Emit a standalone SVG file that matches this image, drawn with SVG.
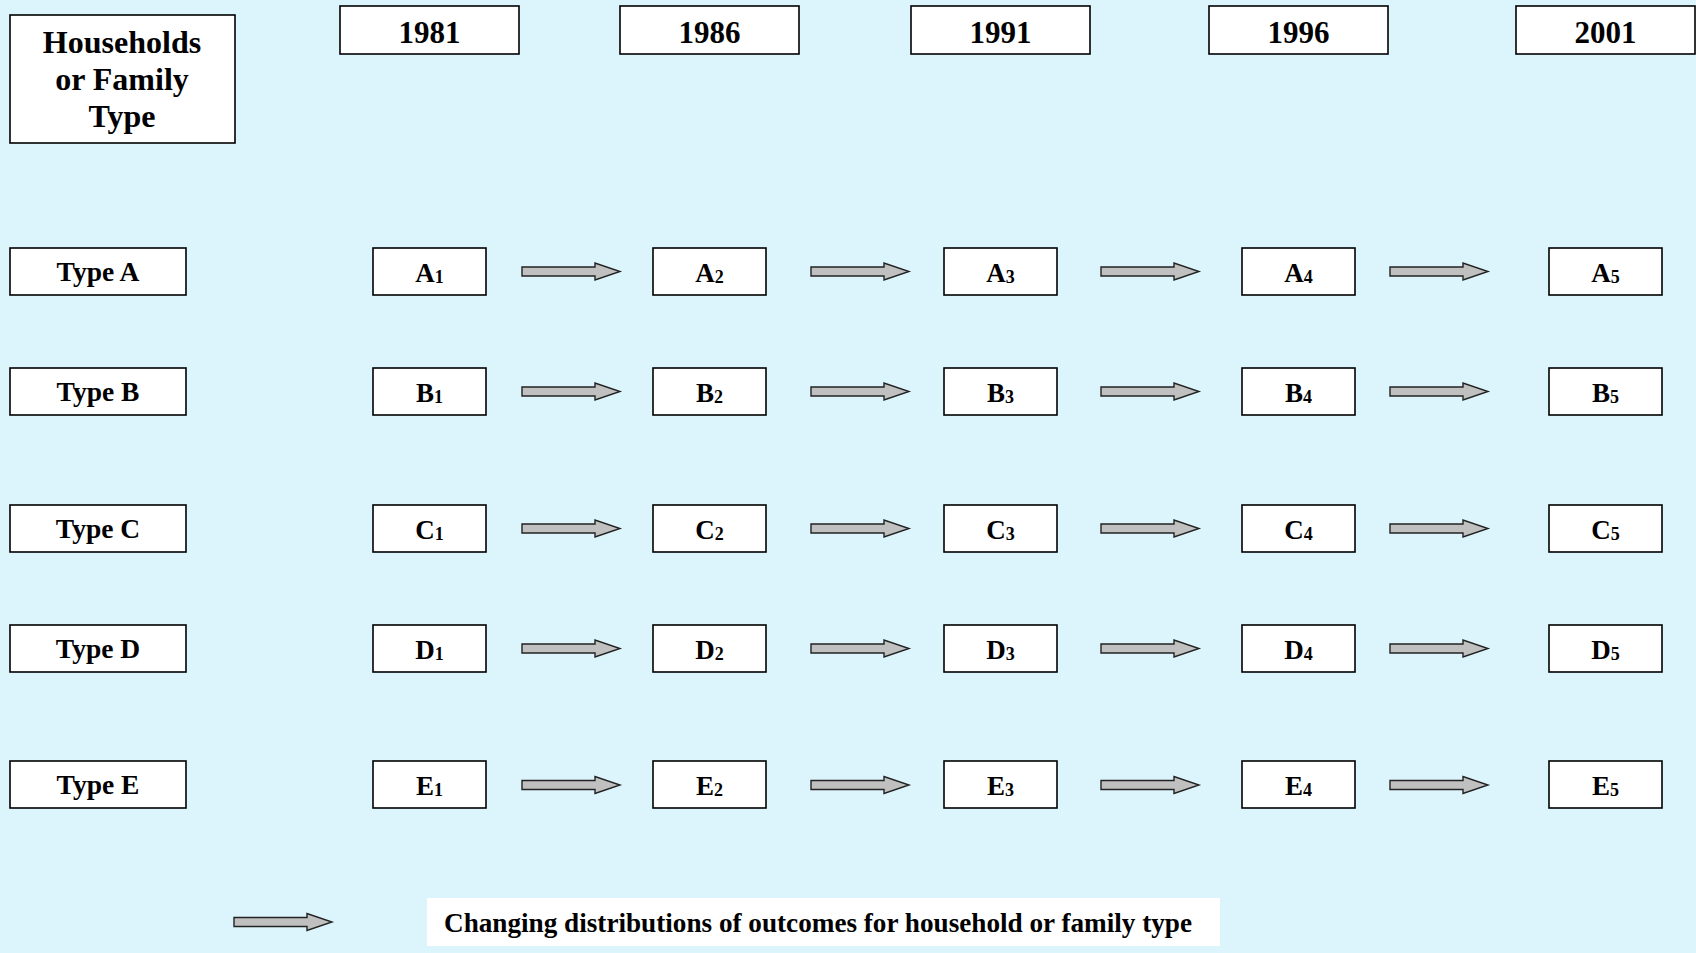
<svg xmlns="http://www.w3.org/2000/svg" xmlns:xlink="http://www.w3.org/1999/xlink" width="1696" height="953" viewBox="0 0 1696 953">
<style>
.box{fill:#fff;stroke:#000;stroke-width:1.6}
.t{font-family:"Liberation Serif","Times New Roman",serif;font-weight:bold;fill:#000;text-anchor:middle}
.hd{font-size:32px}
.yr{font-size:31px}
.ty{font-size:27.5px}
.cl{font-size:27px}
.sb{font-size:18px}
.lg{font-size:27px;text-anchor:start}
.arr{fill:#c0c0c0;stroke:#222;stroke-width:1.4}
</style>
<defs>
<path id="ar" class="arr" d="M0,-4.5 H73 V-8.5 L98,0 L73,8.5 V4.5 H0 Z"/>
</defs>
<rect width="1696" height="953" fill="#dcf5fd"/>
<g id="header">
<rect class="box" x="10" y="15" width="225" height="128"/>
<text class="t hd" x="122" y="53">Households</text>
<text class="t hd" x="122" y="90">or Family</text>
<text class="t hd" x="122" y="127">Type</text>
</g>
<g id="y1981"><rect class="box" x="340" y="6" width="179" height="48"/><text class="t yr" x="429.5" y="43">1981</text></g>
<g id="y1986"><rect class="box" x="620" y="6" width="179" height="48"/><text class="t yr" x="709.5" y="43">1986</text></g>
<g id="y1991"><rect class="box" x="911" y="6" width="179" height="48"/><text class="t yr" x="1000.5" y="43">1991</text></g>
<g id="y1996"><rect class="box" x="1209" y="6" width="179" height="48"/><text class="t yr" x="1298.5" y="43">1996</text></g>
<g id="y2001"><rect class="box" x="1516" y="6" width="179" height="48"/><text class="t yr" x="1605.5" y="43">2001</text></g>

<g id="typeA"><rect class="box" x="10" y="248" width="176" height="47"/><text class="t ty" x="98" y="281">Type A</text></g>
<g id="typeB"><rect class="box" x="10" y="368" width="176" height="47"/><text class="t ty" x="98" y="401">Type B</text></g>
<g id="typeC"><rect class="box" x="10" y="505" width="176" height="47"/><text class="t ty" x="98" y="538">Type C</text></g>
<g id="typeD"><rect class="box" x="10" y="625" width="176" height="47"/><text class="t ty" x="98" y="658">Type D</text></g>
<g id="typeE"><rect class="box" x="10" y="761" width="176" height="47"/><text class="t ty" x="98" y="794">Type E</text></g>

<g id="A1"><rect class="box" x="373" y="248" width="113" height="47"/><text class="t cl" x="429.5" y="282">A<tspan class="sb" dy="1">1</tspan></text></g>
<g id="A2"><rect class="box" x="653" y="248" width="113" height="47"/><text class="t cl" x="709.5" y="282">A<tspan class="sb" dy="1">2</tspan></text></g>
<g id="A3"><rect class="box" x="944" y="248" width="113" height="47"/><text class="t cl" x="1000.5" y="282">A<tspan class="sb" dy="1">3</tspan></text></g>
<g id="A4"><rect class="box" x="1242" y="248" width="113" height="47"/><text class="t cl" x="1298.5" y="282">A<tspan class="sb" dy="1">4</tspan></text></g>
<g id="A5"><rect class="box" x="1549" y="248" width="113" height="47"/><text class="t cl" x="1605.5" y="282">A<tspan class="sb" dy="1">5</tspan></text></g>

<g id="B1"><rect class="box" x="373" y="368" width="113" height="47"/><text class="t cl" x="429.5" y="402">B<tspan class="sb" dy="1">1</tspan></text></g>
<g id="B2"><rect class="box" x="653" y="368" width="113" height="47"/><text class="t cl" x="709.5" y="402">B<tspan class="sb" dy="1">2</tspan></text></g>
<g id="B3"><rect class="box" x="944" y="368" width="113" height="47"/><text class="t cl" x="1000.5" y="402">B<tspan class="sb" dy="1">3</tspan></text></g>
<g id="B4"><rect class="box" x="1242" y="368" width="113" height="47"/><text class="t cl" x="1298.5" y="402">B<tspan class="sb" dy="1">4</tspan></text></g>
<g id="B5"><rect class="box" x="1549" y="368" width="113" height="47"/><text class="t cl" x="1605.5" y="402">B<tspan class="sb" dy="1">5</tspan></text></g>

<g id="C1"><rect class="box" x="373" y="505" width="113" height="47"/><text class="t cl" x="429.5" y="539">C<tspan class="sb" dy="1">1</tspan></text></g>
<g id="C2"><rect class="box" x="653" y="505" width="113" height="47"/><text class="t cl" x="709.5" y="539">C<tspan class="sb" dy="1">2</tspan></text></g>
<g id="C3"><rect class="box" x="944" y="505" width="113" height="47"/><text class="t cl" x="1000.5" y="539">C<tspan class="sb" dy="1">3</tspan></text></g>
<g id="C4"><rect class="box" x="1242" y="505" width="113" height="47"/><text class="t cl" x="1298.5" y="539">C<tspan class="sb" dy="1">4</tspan></text></g>
<g id="C5"><rect class="box" x="1549" y="505" width="113" height="47"/><text class="t cl" x="1605.5" y="539">C<tspan class="sb" dy="1">5</tspan></text></g>

<g id="D1"><rect class="box" x="373" y="625" width="113" height="47"/><text class="t cl" x="429.5" y="659">D<tspan class="sb" dy="1">1</tspan></text></g>
<g id="D2"><rect class="box" x="653" y="625" width="113" height="47"/><text class="t cl" x="709.5" y="659">D<tspan class="sb" dy="1">2</tspan></text></g>
<g id="D3"><rect class="box" x="944" y="625" width="113" height="47"/><text class="t cl" x="1000.5" y="659">D<tspan class="sb" dy="1">3</tspan></text></g>
<g id="D4"><rect class="box" x="1242" y="625" width="113" height="47"/><text class="t cl" x="1298.5" y="659">D<tspan class="sb" dy="1">4</tspan></text></g>
<g id="D5"><rect class="box" x="1549" y="625" width="113" height="47"/><text class="t cl" x="1605.5" y="659">D<tspan class="sb" dy="1">5</tspan></text></g>

<g id="E1"><rect class="box" x="373" y="761" width="113" height="47"/><text class="t cl" x="429.5" y="795">E<tspan class="sb" dy="1">1</tspan></text></g>
<g id="E2"><rect class="box" x="653" y="761" width="113" height="47"/><text class="t cl" x="709.5" y="795">E<tspan class="sb" dy="1">2</tspan></text></g>
<g id="E3"><rect class="box" x="944" y="761" width="113" height="47"/><text class="t cl" x="1000.5" y="795">E<tspan class="sb" dy="1">3</tspan></text></g>
<g id="E4"><rect class="box" x="1242" y="761" width="113" height="47"/><text class="t cl" x="1298.5" y="795">E<tspan class="sb" dy="1">4</tspan></text></g>
<g id="E5"><rect class="box" x="1549" y="761" width="113" height="47"/><text class="t cl" x="1605.5" y="795">E<tspan class="sb" dy="1">5</tspan></text></g>

<g id="connectors">
<use xlink:href="#ar" x="522" y="271.5"/><use xlink:href="#ar" x="811" y="271.5"/><use xlink:href="#ar" x="1101" y="271.5"/><use xlink:href="#ar" x="1390" y="271.5"/>
<use xlink:href="#ar" x="522" y="391.5"/><use xlink:href="#ar" x="811" y="391.5"/><use xlink:href="#ar" x="1101" y="391.5"/><use xlink:href="#ar" x="1390" y="391.5"/>
<use xlink:href="#ar" x="522" y="528.5"/><use xlink:href="#ar" x="811" y="528.5"/><use xlink:href="#ar" x="1101" y="528.5"/><use xlink:href="#ar" x="1390" y="528.5"/>
<use xlink:href="#ar" x="522" y="648.5"/><use xlink:href="#ar" x="811" y="648.5"/><use xlink:href="#ar" x="1101" y="648.5"/><use xlink:href="#ar" x="1390" y="648.5"/>
<use xlink:href="#ar" x="522" y="785"/><use xlink:href="#ar" x="811" y="785"/><use xlink:href="#ar" x="1101" y="785"/><use xlink:href="#ar" x="1390" y="785"/>
</g>
<g id="legend">
<use xlink:href="#ar" x="234" y="922"/>
<rect x="427" y="898" width="793" height="48" fill="#fff"/>
<text class="t lg" x="444" y="932" textLength="748" lengthAdjust="spacingAndGlyphs">Changing distributions of outcomes for household or family type</text>
</g>
</svg>
